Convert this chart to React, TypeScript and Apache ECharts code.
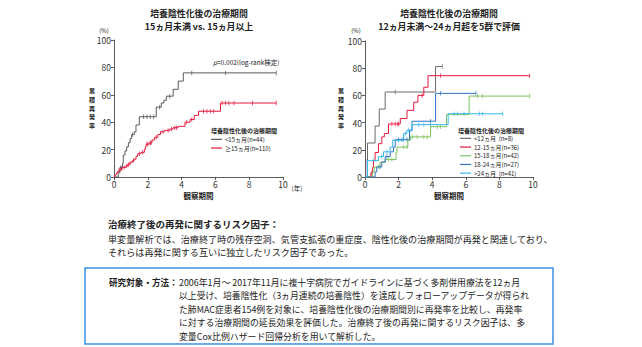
import React, { useEffect, useRef } from "react";
import * as echarts from "echarts";

const FONT = "'Noto Sans CJK JP', 'Noto Sans', sans-serif";

// ---- Left chart: <15 months vs >=15 months ----
const leftLt15Steps: number[][] = [[0,0],[0.25,3],[0.35,7],[0.5,10],[0.55,16],[0.65,19],[0.75,22],[0.85,25],[0.95,28],[1.05,31],[1.2,33],[1.3,38],[1.5,44],[2.5,51],[2.8,54],[2.95,56],[3.1,59],[3.5,64],[3.8,70],[4.1,76],[9.6,76]];
const leftLt15Censor: number[][] = [[0.4,7],[1.1,31],[1.75,44],[1.95,44],[2.15,44],[2.35,44],[2.7,51],[3.3,59],[4.6,76],[6.6,76],[9.6,76]];
const leftGe15Steps: number[][] = [[0,0],[0.05,1],[0.1,2],[0.15,3],[0.2,4],[0.3,5],[0.4,6],[0.5,7],[0.7,8],[0.8,9],[0.9,10],[1.0,11],[1.1,12],[1.2,13],[1.3,15],[1.4,17],[1.6,18],[1.8,20],[1.85,22],[1.9,24],[2.1,25],[2.25,27],[2.4,29],[2.6,31],[2.75,33],[3.0,34],[3.3,35],[3.5,36],[3.8,37],[4.2,40],[4.5,42],[4.75,45],[5.0,48],[6.3,54],[9.6,54]];
const leftGe15Censor: number[][] = [[0.3,5],[0.45,6],[0.6,7],[0.75,8],[0.85,9],[0.95,10],[1.15,12],[1.5,17],[1.7,18],[1.95,24],[2.0,24],[2.15,25],[2.2,25],[2.5,29],[2.9,33],[3.2,34],[3.4,35],[3.6,36],[3.7,36],[4.3,40],[4.6,42],[5.3,48],[5.5,48],[5.7,48],[5.9,48],[6.4,54],[6.6,54],[6.8,54],[7.1,54],[8.2,54],[9.6,54]];
const leftNames = ["<15ヵ月(n=44)", "≥15ヵ月(n=110)"];

// ---- Right chart: five groups ----
const rLt12Steps: number[][] = [[0,0],[0.05,12.5],[0.15,25],[0.6,37.5],[0.85,50],[1.2,62.5],[4.2,81.2],[4.6,81.2]];
const rLt12Censor: number[][] = [[1.8,62.5],[4.6,81.2]];
const r12to15Steps: number[][] = [[0,0],[0.35,3],[0.45,7],[0.5,12],[0.6,18],[0.8,24.5],[1.0,29.5],[1.15,32],[1.4,39],[2.1,43],[2.5,49],[2.9,55],[3.15,60],[3.5,66],[3.75,74.5],[9.8,74.5]];
const r12to15Censor: number[][] = [[0.4,3],[1.6,39],[1.8,39],[1.95,39],[2.0,39],[3.4,60],[4.5,74.5],[9.8,74.5]];
const r15to18Steps: number[][] = [[0,0],[0.45,3.7],[0.55,7.4],[0.9,11],[1.2,12.8],[1.85,18],[1.9,22],[2.55,27],[2.7,29.5],[3.9,37],[4.85,46],[6.2,59.5],[9.8,59.5]];
const r15to18Censor: number[][] = [[0.8,7.4],[1.4,12.8],[1.6,12.8],[2.3,22],[2.5,22],[2.8,29.5],[3.1,29.5],[3.5,29.5],[3.7,29.5],[4.3,37],[4.5,37],[6.7,59.5],[7.0,59.5],[9.8,59.5]];
const r18to24Steps: number[][] = [[0,0],[0.6,3.7],[0.7,7.4],[1.0,11],[1.2,15],[1.5,18.5],[1.7,22],[1.8,27.5],[2.65,34],[2.8,41],[4.2,61.5],[6.6,61.5]];
const r18to24Censor: number[][] = [[0.9,7.4],[1.3,15],[2.0,27.5],[2.2,27.5],[2.3,27.5],[2.5,27.5],[3.9,41],[4.5,61.5],[6.6,61.5]];
const rGt24Steps: number[][] = [[0,0],[0.15,12],[0.8,15],[1.1,18.5],[1.5,22],[1.65,27],[2.3,32],[2.5,34.5],[2.8,38.5],[4.95,46.5],[8.2,46.5]];
const rGt24Censor: number[][] = [[0.5,12],[1.0,15],[1.3,18.5],[2.0,27],[2.4,32],[2.6,34.5],[3.2,38.5],[3.5,38.5],[3.9,38.5],[5.3,46.5],[5.5,46.5],[5.9,46.5],[6.8,46.5],[7.0,46.5],[8.2,46.5]];
const rightNames = ["<12ヵ月  (n=8)", "12-15ヵ月(n=36)", "15-18ヵ月(n=42)", "18-24ヵ月(n=27)", ">24ヵ月  (n=41)"];

const bodyHeading = "治療終了後の再発に関するリスク因子：";
const bodyLines = [
  "単変量解析では、治療終了時の残存空洞、気管支拡張の重症度、陰性化後の治療期間が再発と関連しており、",
  "それらは再発に関する互いに独立したリスク因子であった。",
];
const boxHeading = "研究対象・方法：";
const boxLines = [
  "2006年1月～ 2017年11月に複十字病院でガイドラインに基づく多剤併用療法を12ヵ月",
  "以上受け、培養陰性化（3ヵ月連続の培養陰性）を達成しフォローアップデータが得られ",
  "た肺MAC症患者154例を対象に、培養陰性化後の治療期間別に再発率を比較し、再発率",
  "に対する治療期間の延長効果を評価した。治療終了後の再発に関するリスク因子は、多",
  "変量Cox比例ハザード回帰分析を用いて解析した。",
];

const AX = "#333";

function axes(grid: number) {
  const x = {
    type: "value", gridIndex: grid, min: 0, max: 10, interval: 2,
    axisLine: { lineStyle: { color: AX, width: 0.8 } },
    axisTick: { length: 3, lineStyle: { color: AX, width: 0.8 } },
    axisLabel: { fontSize: 8.5, color: AX, margin: 3, fontFamily: FONT },
    splitLine: { show: false },
    name: "観察期間", nameLocation: "middle", nameGap: 15,
    nameTextStyle: { fontSize: 7.5, fontWeight: "bold", color: "#222", fontFamily: FONT },
  };
  const y = {
    type: "value", gridIndex: grid, min: 0, max: 100, interval: 20,
    axisLine: { show: true, lineStyle: { color: AX, width: 0.8 } },
    axisTick: { show: true, length: 3, lineStyle: { color: AX, width: 0.8 } },
    axisLabel: { fontSize: 8.5, color: AX, margin: 3, fontFamily: FONT },
    splitLine: { show: false },
  };
  return { x, y };
}

function km(name: string, steps: number[][], censor: number[][], color: string, grid: number) {
  return [
    {
      type: "line", name, xAxisIndex: grid, yAxisIndex: grid, data: steps, step: "end",
      showSymbol: false, symbol: "none", lineStyle: { color, width: 1 }, itemStyle: { color },
      silent: true,
    },
    {
      type: "scatter", name: name + "_c", xAxisIndex: grid, yAxisIndex: grid, data: censor,
      symbol: "rect", symbolSize: [0.9, 4.5], itemStyle: { color }, silent: true,
    },
  ];
}

export default function App() {
  const ref = useRef<HTMLDivElement>(null);
  useEffect(() => {
    const chart = echarts.init(ref.current!, null, { renderer: "svg" });
    const a0 = axes(0);
    const a1 = axes(1);
    const txt = (x: number, y: number, text: string, size: number, opts: any = {}) => ({
      type: "text", x, y,
      style: { text, fontSize: size, fontFamily: FONT, fill: opts.fill || "#222", fontWeight: opts.bold ? "bold" : "normal",
        textAlign: opts.align || "left", textVerticalAlign: "middle", lineHeight: opts.lh },
    });
    const vert = (x: number, yc: number, text: string) => {
      const chars = Array.from(text);
      const step = 8.9;
      const y0 = yc - ((chars.length - 1) * step) / 2;
      return chars.map((c, i) => txt(x, y0 + i * step, c, 6, { bold: true, align: "center" }));
    };
    const leftColors = ["#5a5a5a", "#e6193c"];
    const rightColors = ["#6b6b6b", "#e6193c", "#7cc35a", "#2f74c0", "#35b6ee"];
    const graphics: any[] = [
      txt(199, 13, "培養陰性化後の治療期間", 8.9, { bold: true, align: "center" }),
      txt(199, 26.2, "15ヵ月未満 vs. 15ヵ月以上", 8.9, { bold: true, align: "center" }),
      txt(449, 13, "培養陰性化後の治療期間", 8.9, { bold: true, align: "center" }),
      txt(449, 26.2, "12ヵ月未満～24ヵ月超を5群で評価", 8.9, { bold: true, align: "center" }),
      txt(104, 30, "(%)", 6, { align: "center" }),
      txt(356, 30, "(%)", 6, { align: "center" }),
      txt(297, 188, "(年)", 6.5, { align: "center" }),
      ...vert(92, 108, "累積再発率"),
      ...vert(341, 108, "累積再発率"),
      {
        type: "text", x: 213, y: 62,
        style: { text: "{i|p}=0.002(log-rank検定)", fontSize: 6.5, fontFamily: FONT, fill: "#222", textVerticalAlign: "middle",
          rich: { i: { fontStyle: "italic", fontSize: 6.5, fontFamily: FONT, fill: "#222" } } },
      },
      txt(211, 130, "培養陰性化後の治療期間", 6, { bold: true }),
      txt(458, 130, "培養陰性化後の治療期間", 6, { bold: true }),
      txt(108, 224, bodyHeading, 9.5, { bold: true }),
      txt(108, 239, bodyLines[0], 9.1),
      txt(108, 252, bodyLines[1], 9.1),
      {
        type: "rect", shape: { x: 85, y: 268, width: 468, height: 76 },
        style: { fill: "#fff", stroke: "#3b8fe5", lineWidth: 1.5 },
      },
      txt(109, 282, boxHeading, 8.6, { bold: true }),
      ...boxLines.map((l, i) => txt(179, 282 + i * 13.5, l, 8.9)),
    ];
    const series: any[] = [
      ...km(leftNames[0], leftLt15Steps, leftLt15Censor, leftColors[0], 0),
      ...km(leftNames[1], leftGe15Steps, leftGe15Censor, leftColors[1], 0),
      ...km(rightNames[0], rLt12Steps, rLt12Censor, rightColors[0], 1),
      ...km(rightNames[1], r12to15Steps, r12to15Censor, rightColors[1], 1),
      ...km(rightNames[2], r15to18Steps, r15to18Censor, rightColors[2], 1),
      ...km(rightNames[3], r18to24Steps, r18to24Censor, rightColors[3], 1),
      ...km(rightNames[4], rGt24Steps, rGt24Censor, rightColors[4], 1),
    ];
    const legendBase = {
      orient: "vertical", icon: "rect", itemWidth: 11, itemHeight: 1.2, itemGap: 0, padding: 0,
      textStyle: { fontSize: 6, color: "#222", fontFamily: FONT, lineHeight: 8.7, padding: [0, 0, 0, -2] },
      selectedMode: false,
    };
    chart.setOption({
      animation: false,
      backgroundColor: "#fff",
      grid: [
        { left: 114, top: 40, width: 169, height: 137 },
        { left: 365, top: 41, width: 168, height: 136 },
      ],
      xAxis: [a0.x, a1.x],
      yAxis: [a0.y, a1.y],
      legend: [
        { ...legendBase, left: 211, top: 135, data: leftNames },
        { ...legendBase, left: 460, top: 134, data: rightNames },
      ],
      graphic: graphics,
      series,
    });
    return () => chart.dispose();
  }, []);
  return <div ref={ref} style={{ position: "fixed", left: 0, top: 0, width: 642, height: 347, background: "#fff" }} />;
}
